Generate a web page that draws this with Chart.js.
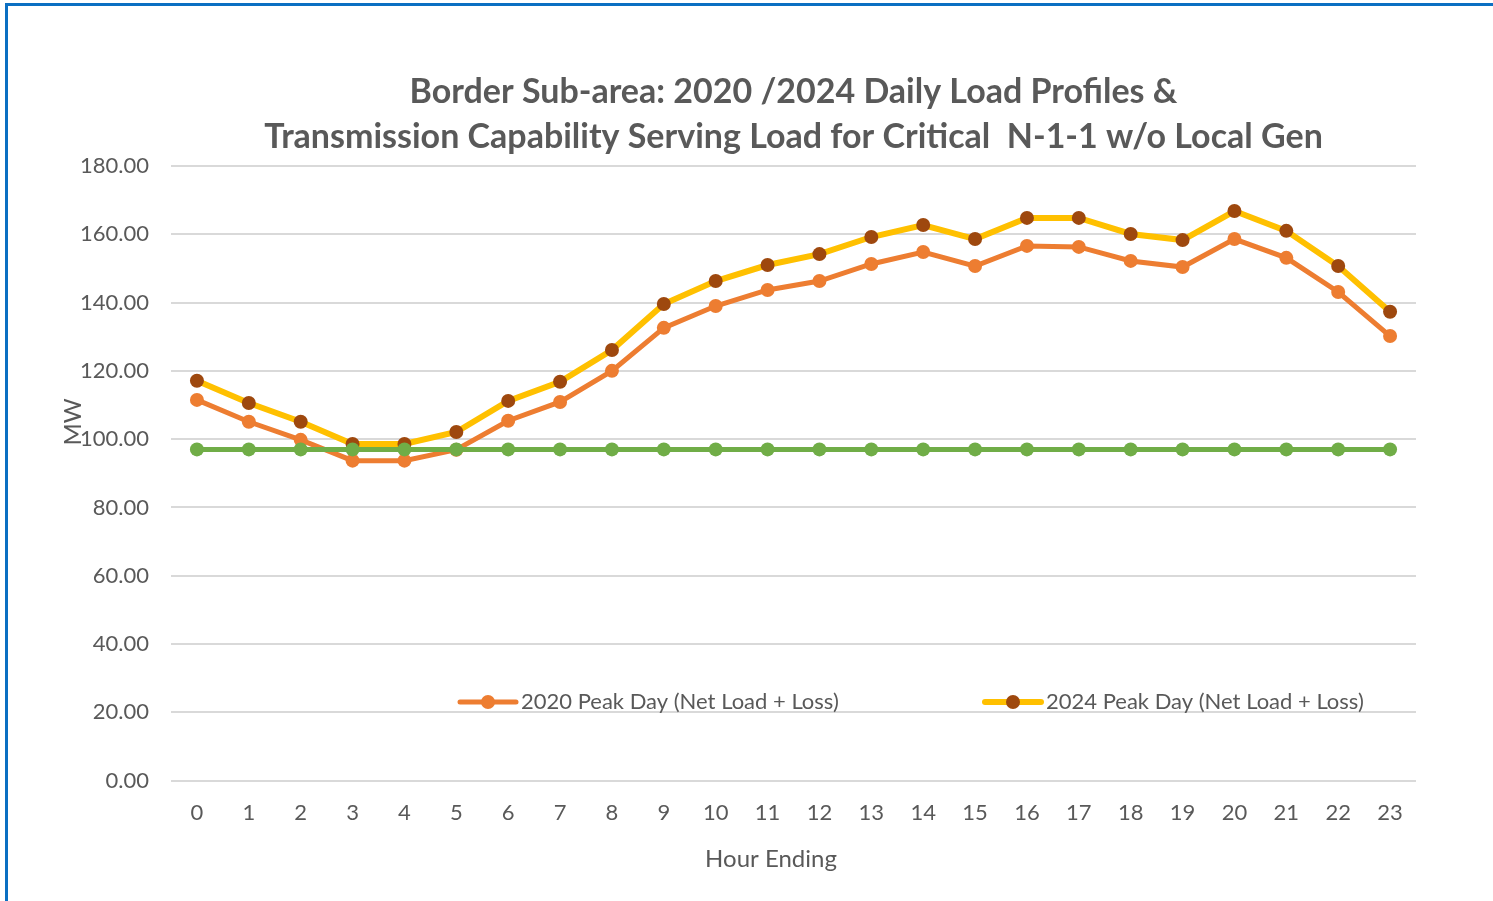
<!DOCTYPE html>
<html>
<head>
<meta charset="utf-8">
<script src="https://cdn.jsdelivr.net/npm/chart.js@4"></script>
<style>
  body { margin: 0; background: #fff; overflow: hidden; }
  #wrap { position: relative; width: 1493px; height: 901px; }
  #frame {
    position: absolute; left: 5px; top: 3px; width: 1600px; height: 1000px;
    border-left: 3px solid #0b6fc2; border-top: 3px solid #0b6fc2;
    pointer-events: none;
  }
</style>
</head>
<body>
<div id="wrap">
  <canvas id="chart" width="1493" height="901"></canvas>
  <div id="frame"></div>
</div>
<script>
const hours = ["0","1","2","3","4","5","6","7","8","9","10","11","12","13","14","15","16","17","18","19","20","21","22","23"];

const peak2020 = [111.5, 105.1, 99.8, 93.7, 93.7, 96.9, 105.4, 110.9, 120.0, 132.6, 139.0, 143.7,
                  146.3, 151.3, 154.8, 150.7, 156.6, 156.3, 152.2, 150.4, 158.6, 153.1, 143.1, 130.2];
const peak2024 = [117.1, 110.6, 105.1, 98.6, 98.6, 102.1, 111.2, 116.8, 126.1, 139.6, 146.3, 151.0,
                  154.2, 159.2, 162.7, 158.6, 164.8, 164.8, 160.1, 158.3, 166.8, 161.0, 150.7, 137.3];
const capability = [97, 97, 97, 97, 97, 97, 97, 97, 97, 97, 97, 97,
                    97, 97, 97, 97, 97, 97, 97, 97, 97, 97, 97, 97];

const yTicks = [0, 20, 40, 60, 80, 100, 120, 140, 160, 180];

const FONT = "Lato, 'Open Sans', sans-serif";
const TEXT = "#595959";

// legend sits inside the plot in the original, so draw it by hand
// (axis titles too, they are off-centre in the original)
const insideLegend = {
  id: "insideLegend",
  afterDraw(chart) {
    const ctx = chart.ctx;
    const items = [
      { ds: chart.data.datasets[1], x: 460 },
      { ds: chart.data.datasets[2], x: 985 }
    ];
    const y = 702;
    ctx.save();
    items.forEach(it => {
      ctx.strokeStyle = it.ds.borderColor;
      ctx.lineWidth = it.ds.borderWidth;
      ctx.lineCap = "round";
      ctx.beginPath();
      ctx.moveTo(it.x, y);
      ctx.lineTo(it.x + 56, y);
      ctx.stroke();
      ctx.fillStyle = it.ds.pointBackgroundColor;
      ctx.beginPath();
      ctx.arc(it.x + 28, y, 7, 0, Math.PI * 2);
      ctx.fill();
      ctx.fillStyle = TEXT;
      ctx.font = "22px " + FONT;
      ctx.textBaseline = "middle";
      ctx.fillText(it.ds.label, it.x + 61, y);
    });
    ctx.textAlign = "center";
    ctx.textBaseline = "middle";
    ctx.font = "24px " + FONT;
    ctx.fillText("Hour Ending", 771, 859);
    ctx.translate(73, 422);
    ctx.rotate(-Math.PI / 2);
    ctx.fillText("MW", 0, 0);
    ctx.restore();
  }
};

new Chart(document.getElementById("chart"), {
  type: "line",
  data: {
    labels: hours,
    datasets: [
      {
        label: "Transmission Capability",
        data: capability,
        borderColor: "#70ad47",
        backgroundColor: "#70ad47",
        pointBackgroundColor: "#70ad47",
        pointBorderWidth: 0,
        borderWidth: 5,
        pointRadius: 7,
        order: 0
      },
      {
        label: "2020 Peak Day (Net Load + Loss)",
        data: peak2020,
        borderColor: "#ed7d31",
        backgroundColor: "#ed7d31",
        pointBackgroundColor: "#ed7d31",
        pointBorderWidth: 0,
        borderWidth: 5,
        pointRadius: 7,
        order: 1
      },
      {
        label: "2024 Peak Day (Net Load + Loss)",
        data: peak2024,
        borderColor: "#ffc000",
        backgroundColor: "#ffc000",
        pointBackgroundColor: "#9e480e",
        pointBorderWidth: 0,
        borderWidth: 6,
        pointRadius: 7,
        order: 2
      }
    ]
  },
  options: {
    responsive: false,
    animation: false,
    layout: { padding: { left: 20, right: 77, top: 0, bottom: 56 } },
    plugins: {
      legend: { display: false },
      tooltip: { enabled: false },
      title: {
        display: true,
        fullSize: false,
        text: [
          "Border Sub-area: 2020 /2024 Daily Load Profiles &",
          "Transmission Capability Serving Load for Critical  N-1-1 w/o Local Gen"
        ],
        color: TEXT,
        font: { family: FONT, size: 34, weight: "bold", lineHeight: "45px" },
        padding: { top: 70, bottom: 6 }
      }
    },
    scales: {
      x: {
        offset: true,
        grid: { display: false, drawTicks: false },
        border: { display: false },
        ticks: { color: TEXT, font: { family: FONT, size: 22 }, padding: 19 }
      },
      y: {
        min: 0,
        max: 180,
        afterBuildTicks: (scale) => { scale.ticks = yTicks.map(v => ({ value: v })); },
        afterFit: (scale) => { scale.width = 151; },
        grid: { color: "#d9d9d9", lineWidth: 2, drawTicks: false },
        border: { display: false },
        ticks: {
          color: TEXT,
          font: { family: FONT, size: 22 },
          padding: 22,
          callback: (v) => Number(v).toFixed(2)
        }
      }
    }
  },
  plugins: [insideLegend]
});
</script>
</body>
</html>
